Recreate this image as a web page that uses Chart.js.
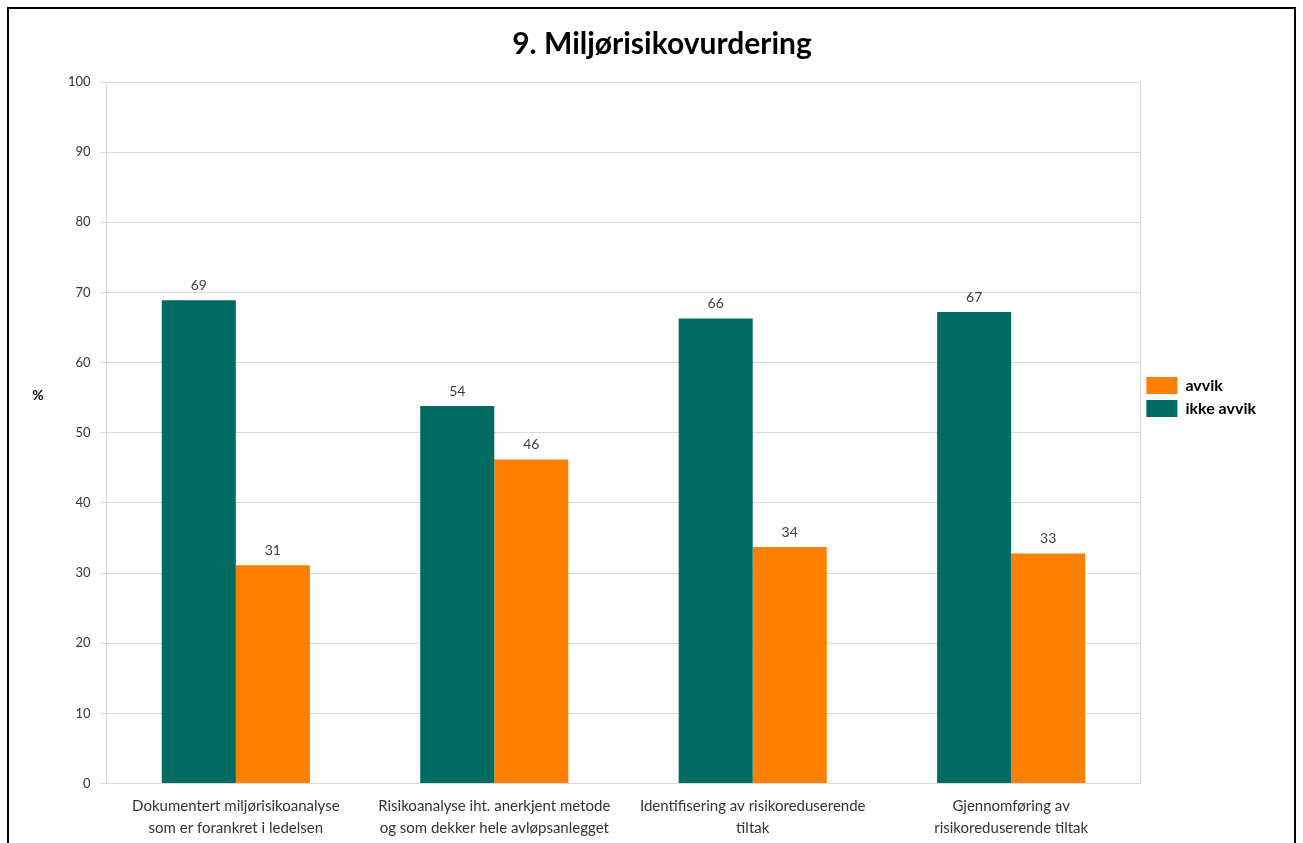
<!DOCTYPE html>
<html>
<head>
<meta charset="utf-8">
<script src="https://cdn.jsdelivr.net/npm/chart.js@4"></script>
<style>
  body { margin: 0; background: #fff; overflow: hidden; }
  #ramme { position: absolute; left: 7px; top: 7px; width: 1285px; height: 870px; border: 2px solid #000; }
  #boks { position: absolute; left: 0; top: 0; width: 1285px; height: 834px; }
</style>
</head>
<body>
<div id="ramme"><div id="boks"><canvas id="graf"></canvas></div></div>
<script>
const kategorier = [
  ["Dokumentert miljørisikoanalyse", "som er forankret i ledelsen"],
  ["Risikoanalyse iht. anerkjent metode", "og som dekker hele avløpsanlegget"],
  ["Identifisering av risikoreduserende", "tiltak"],
  ["Gjennomføring av", "risikoreduserende tiltak"]
];
const ikkeAvvik = [68.9, 53.8, 66.3, 67.2];
const avvik = [31.1, 46.2, 33.7, 32.8];
const yTicks = [0, 10, 20, 30, 40, 50, 60, 70, 80, 90, 100];

const FONT = "Lato, 'Open Sans', sans-serif";

const verdiEtiketter = {
  id: "verdiEtiketter",
  afterDatasetsDraw(chart) {
    const ctx = chart.ctx;
    ctx.save();
    ctx.font = "14px " + FONT;
    ctx.fillStyle = "#404040";
    ctx.textAlign = "center";
    ctx.textBaseline = "bottom";
    chart.data.datasets.forEach((ds, i) => {
      chart.getDatasetMeta(i).data.forEach((bar, j) => {
        ctx.fillText(Math.round(ds.data[j]), bar.x, bar.y - 8);
      });
    });
    ctx.restore();
  }
};

// flytter legenden litt opp, slik som i originalen
const legendeFlytt = {
  id: "legendeFlytt",
  afterLayout(chart) {
    chart.legend.top -= 29;
    chart.legend.bottom -= 29;
  }
};

const ramme = {
  id: "ramme",
  afterDraw(chart) {
    const a = chart.chartArea;
    const ctx = chart.ctx;
    ctx.save();
    ctx.strokeStyle = "#d9d9d9";
    ctx.lineWidth = 1;
    ctx.beginPath();
    ctx.moveTo(Math.round(a.right) + 0.5, a.top);
    ctx.lineTo(Math.round(a.right) + 0.5, a.bottom);
    ctx.stroke();
    // aksetittel "%"
    ctx.font = "bold 14px " + FONT;
    ctx.fillStyle = "#000";
    ctx.textAlign = "center";
    ctx.textBaseline = "middle";
    ctx.fillText("%", 29, 386);
    ctx.restore();
  }
};

new Chart(document.getElementById("graf"), {
  type: "bar",
  data: {
    labels: kategorier,
    datasets: [
      { label: "ikke avvik", data: ikkeAvvik, backgroundColor: "#006b61" },
      { label: "avvik", data: avvik, backgroundColor: "#ff7f00" }
    ]
  },
  options: {
    responsive: true,
    maintainAspectRatio: false,
    animation: false,
    categoryPercentage: 0.573,
    barPercentage: 1,
    layout: { padding: { left: 49, right: 28, top: 0, bottom: 0 } },
    plugins: {
      title: {
        display: true,
        text: "9. Miljørisikovurdering",
        color: "#000",
        font: { family: FONT, size: 30, weight: "bold" },
        padding: { top: 17, bottom: 20 }
      },
      legend: {
        position: "right",
        reverse: true,
        labels: {
          color: "#000",
          font: { family: FONT, size: 16, weight: "bold" },
          boxWidth: 31,
          boxHeight: 17,
          padding: 6
        }
      },
      tooltip: { enabled: false }
    },
    scales: {
      x: {
        grid: { display: false },
        border: { display: false },
        ticks: {
          color: "#333",
          font: { family: FONT, size: 15, lineHeight: 1.45 },
          maxRotation: 0,
          autoSkip: false,
          padding: 4
        }
      },
      y: {
        min: 0,
        max: 100,
        afterBuildTicks: (s) => { s.ticks = yTicks.map(v => ({ value: v })); },
        grid: { color: "#d9d9d9", tickLength: 6 },
        border: { color: "#d9d9d9" },
        ticks: {
          color: "#333",
          font: { family: FONT, size: 13 },
          padding: 10
        }
      }
    }
  },
  plugins: [verdiEtiketter, legendeFlytt, ramme]
});
</script>
</body>
</html>
